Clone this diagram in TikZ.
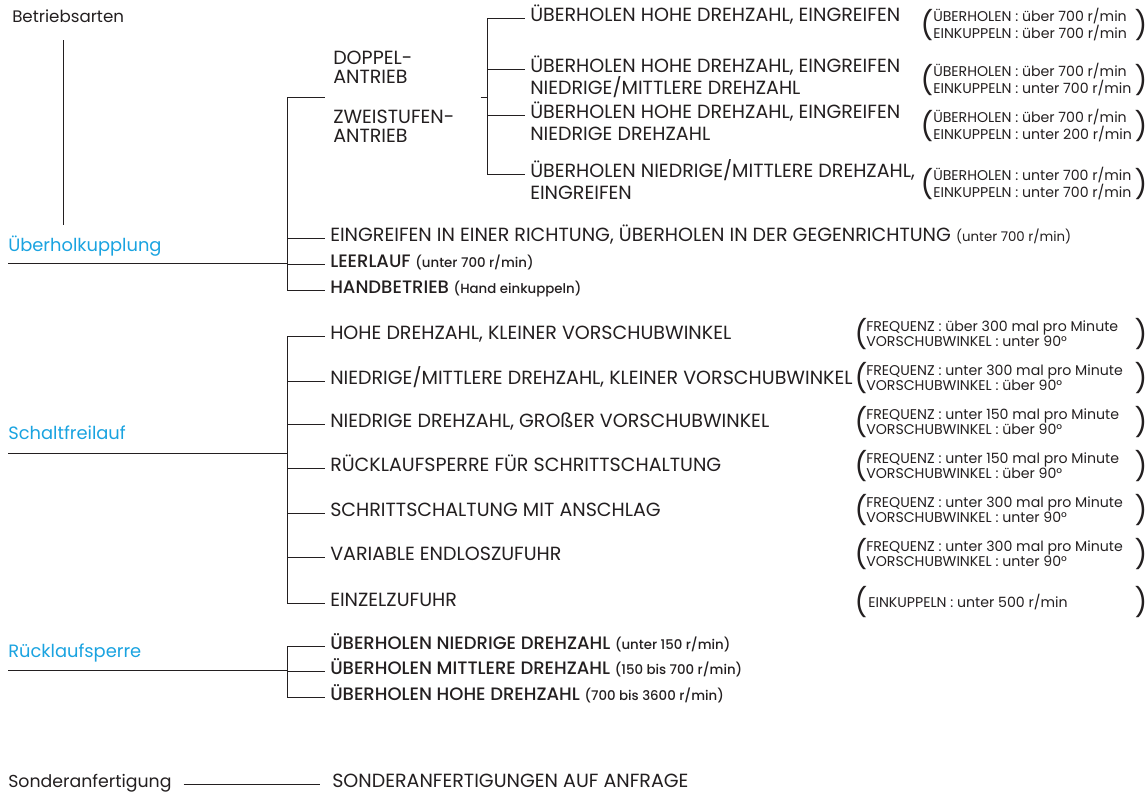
\documentclass[tikz,border=0pt]{standalone}
\usepackage{fontspec}
\setmainfont{Poppins}
\newfontfamily\medf{Poppins Medium}
\definecolor{tx}{HTML}{231F20}
\definecolor{bl}{HTML}{1AA3E0}
\newcommand{\nt}[1]{{\fontsize{10}{12}\selectfont #1}}
\begin{document}
\begin{tikzpicture}[x=0.75pt,y=-0.75pt,
  base/.style={inner sep=0pt, anchor=mid west, text=tx},
  cat/.style={base, font=\fontsize{12.5}{15}\selectfont},
  catb/.style={base, text=bl, font=\fontsize{13.4}{15}\selectfont},
  item/.style={base, inner xsep=3.75pt, font=\fontsize{14.3}{16}\selectfont},
  itemm/.style={item, font=\medf\fontsize{13.5}{15}\selectfont},
  paren/.style={inner sep=0pt, anchor=center, text=tx, font=\fontsize{21}{21}\selectfont},
  ptxt/.style={inner sep=0pt, anchor=west, align=left, text=tx, font=\fontsize{10.6}{11.25}\selectfont},
  wire/.style={draw=tx, line width=0.75pt}]
\useasboundingbox (0,0) rectangle (1147,794);

% ---------- Betriebsarten / Ueberholkupplung
\node[cat] (betr) at (12,19) {Betriebsarten};
\coordinate (v1) at (63,40);
\coordinate (v2) at (63,225);
\draw[wire] (v1) -- (v2);
\node[catb] (uebk) at (8,248) {Überholkupplung};
\coordinate (k1) at (287,263);
\draw[wire] (uebk.west |- k1) -- (k1);

\node[item, anchor=west, inner xsep=6pt, text width=104.25pt, align=left,
      font=\fontsize{14.3}{14.25}\selectfont] (antr) at (325,97)
  {DOPPEL-\\ANTRIEB\\[15.75pt]ZWEISTUFEN-\\ANTRIEB};
\node[item] (eing) at (325,238) {EINGREIFEN IN EINER RICHTUNG, ÜBERHOLEN IN DER GEGENRICHTUNG \nt{(unter 700 r/min)}};
\node[itemm] (leer) at (325,264) {LEERLAUF \nt{(unter 700 r/min)}};
\node[itemm] (hand) at (325,290) {HANDBETRIEB \nt{(Hand einkuppeln)}};
\draw[wire] (k1 |- antr.west) -- (k1 |- hand.mid west);
\foreach \n in {eing,leer,hand} \draw[wire] (k1 |- \n.mid west) -- (\n.mid west);
\draw[wire] (k1 |- antr.west) -- (antr.west);

% ---------- Doppel-/Zweistufenantrieb bracket
\coordinate (k2) at (487,97);
\draw[wire] (antr.east) -- (k2);
\node[item] (o1) at (525,18) {ÜBERHOLEN HOHE DREHZAHL, EINGREIFEN};
\node[item] (o2) at (525,69) {ÜBERHOLEN HOHE DREHZAHL, EINGREIFEN};
\node[item] (o2b) at (525,91) {NIEDRIGE/MITTLERE DREHZAHL};
\node[item] (o3) at (525,115) {ÜBERHOLEN HOHE DREHZAHL, EINGREIFEN};
\node[item] (o3b) at (525,137) {NIEDRIGE DREHZAHL};
\node[item] (o4) at (525,174) {ÜBERHOLEN NIEDRIGE/MITTLERE DREHZAHL,};
\node[item] (o4b) at (525,196) {EINGREIFEN};
\draw[wire] (k2 |- o1.mid west) -- (k2 |- o4.mid west);
\foreach \n in {o1,o2,o3,o4} \draw[wire] (k2 |- \n.mid west) -- (\n.mid west);

\foreach \i/\y in {1/25, 2/80, 3/126, 4/184}{
  \node[paren] (pl\i) at (927,\y) {(};
  \node[paren] (pr\i) at (1141,\y) {)};
}
\node[ptxt] (pt1) at (933,25) {ÜBERHOLEN : über 700 r/min\\EINKUPPELN : über 700 r/min};
\node[ptxt] (pt2) at (933,80) {ÜBERHOLEN : über 700 r/min\\EINKUPPELN : unter 700 r/min};
\node[ptxt] (pt3) at (933,126) {ÜBERHOLEN : über 700 r/min\\EINKUPPELN : unter 200 r/min};
\node[ptxt] (pt4) at (933,184) {ÜBERHOLEN : unter 700 r/min\\EINKUPPELN : unter 700 r/min};

% ---------- Schaltfreilauf
\node[catb] (schalt) at (8,436) {Schaltfreilauf};
\coordinate (k3) at (287,453);
\draw[wire] (schalt.west |- k3) -- (k3);
\node[item] (s1) at (325,336) {HOHE DREHZAHL, KLEINER VORSCHUBWINKEL};
\node[item] (s2) at (325,381) {NIEDRIGE/MITTLERE DREHZAHL, KLEINER VORSCHUBWINKEL};
\node[item] (s3) at (325,424) {NIEDRIGE DREHZAHL, GROßER VORSCHUBWINKEL};
\node[item] (s4) at (325,468) {RÜCKLAUFSPERRE FÜR SCHRITTSCHALTUNG};
\node[item] (s5) at (325,513) {SCHRITTSCHALTUNG MIT ANSCHLAG};
\node[item] (s6) at (325,557) {VARIABLE ENDLOSZUFUHR};
\node[item] (s7) at (325,603) {EINZELZUFUHR};
\draw[wire] (k3 |- s1.mid west) -- (k3 |- s7.mid west);
\foreach \n in {s1,s2,s3,s4,s5,s6,s7} \draw[wire] (k3 |- \n.mid west) -- (\n.mid west);

\foreach \i/\y in {1/334, 2/378, 3/422, 4/466, 5/510, 6/554, 7/602}{
  \node[paren] (ql\i) at (861,\y) {(};
  \node[paren] (qr\i) at (1141,\y) {)};
}
\node[ptxt] (qt1) at (866,334) {FREQUENZ : über 300 mal pro Minute\\VORSCHUBWINKEL : unter 90°};
\node[ptxt] (qt2) at (866,378) {FREQUENZ : unter 300 mal pro Minute\\VORSCHUBWINKEL : über 90°};
\node[ptxt] (qt3) at (866,422) {FREQUENZ : unter 150 mal pro Minute\\VORSCHUBWINKEL : über 90°};
\node[ptxt] (qt4) at (866,466) {FREQUENZ : unter 150 mal pro Minute\\VORSCHUBWINKEL : über 90°};
\node[ptxt] (qt5) at (866,510) {FREQUENZ : unter 300 mal pro Minute\\VORSCHUBWINKEL : unter 90°};
\node[ptxt] (qt6) at (866,554) {FREQUENZ : unter 300 mal pro Minute\\VORSCHUBWINKEL : unter 90°};
\node[ptxt] (qt7) at (868,602) {EINKUPPELN : unter 500 r/min};

% ---------- Ruecklaufsperre
\node[catb] (rueck) at (8,654) {Rücklaufsperre};
\coordinate (k4) at (287,670);
\draw[wire] (rueck.west |- k4) -- (k4);
\node[itemm] (r1) at (325,646) {ÜBERHOLEN NIEDRIGE DREHZAHL \nt{(unter 150 r/min)}};
\node[itemm] (r2) at (325,671) {ÜBERHOLEN MITTLERE DREHZAHL \nt{(150 bis 700 r/min)}};
\node[itemm] (r3) at (325,697) {ÜBERHOLEN HOHE DREHZAHL \nt{(700 bis 3600 r/min)}};
\draw[wire] (k4 |- r1.mid west) -- (k4 |- r3.mid west);
\foreach \n in {r1,r2,r3} \draw[wire] (k4 |- \n.mid west) -- (\n.mid west);

% ---------- Sonderanfertigung
\node[base, font=\fontsize{13}{15}\selectfont] (sond) at (8,784) {Sonderanfertigung};
\node[item, inner xsep=9pt] (sa) at (320,784) {SONDERANFERTIGUNGEN AUF ANFRAGE};
\draw[wire] ([xshift=9pt]sond.mid east) -- (sa.mid west);
\end{tikzpicture}
\end{document}
